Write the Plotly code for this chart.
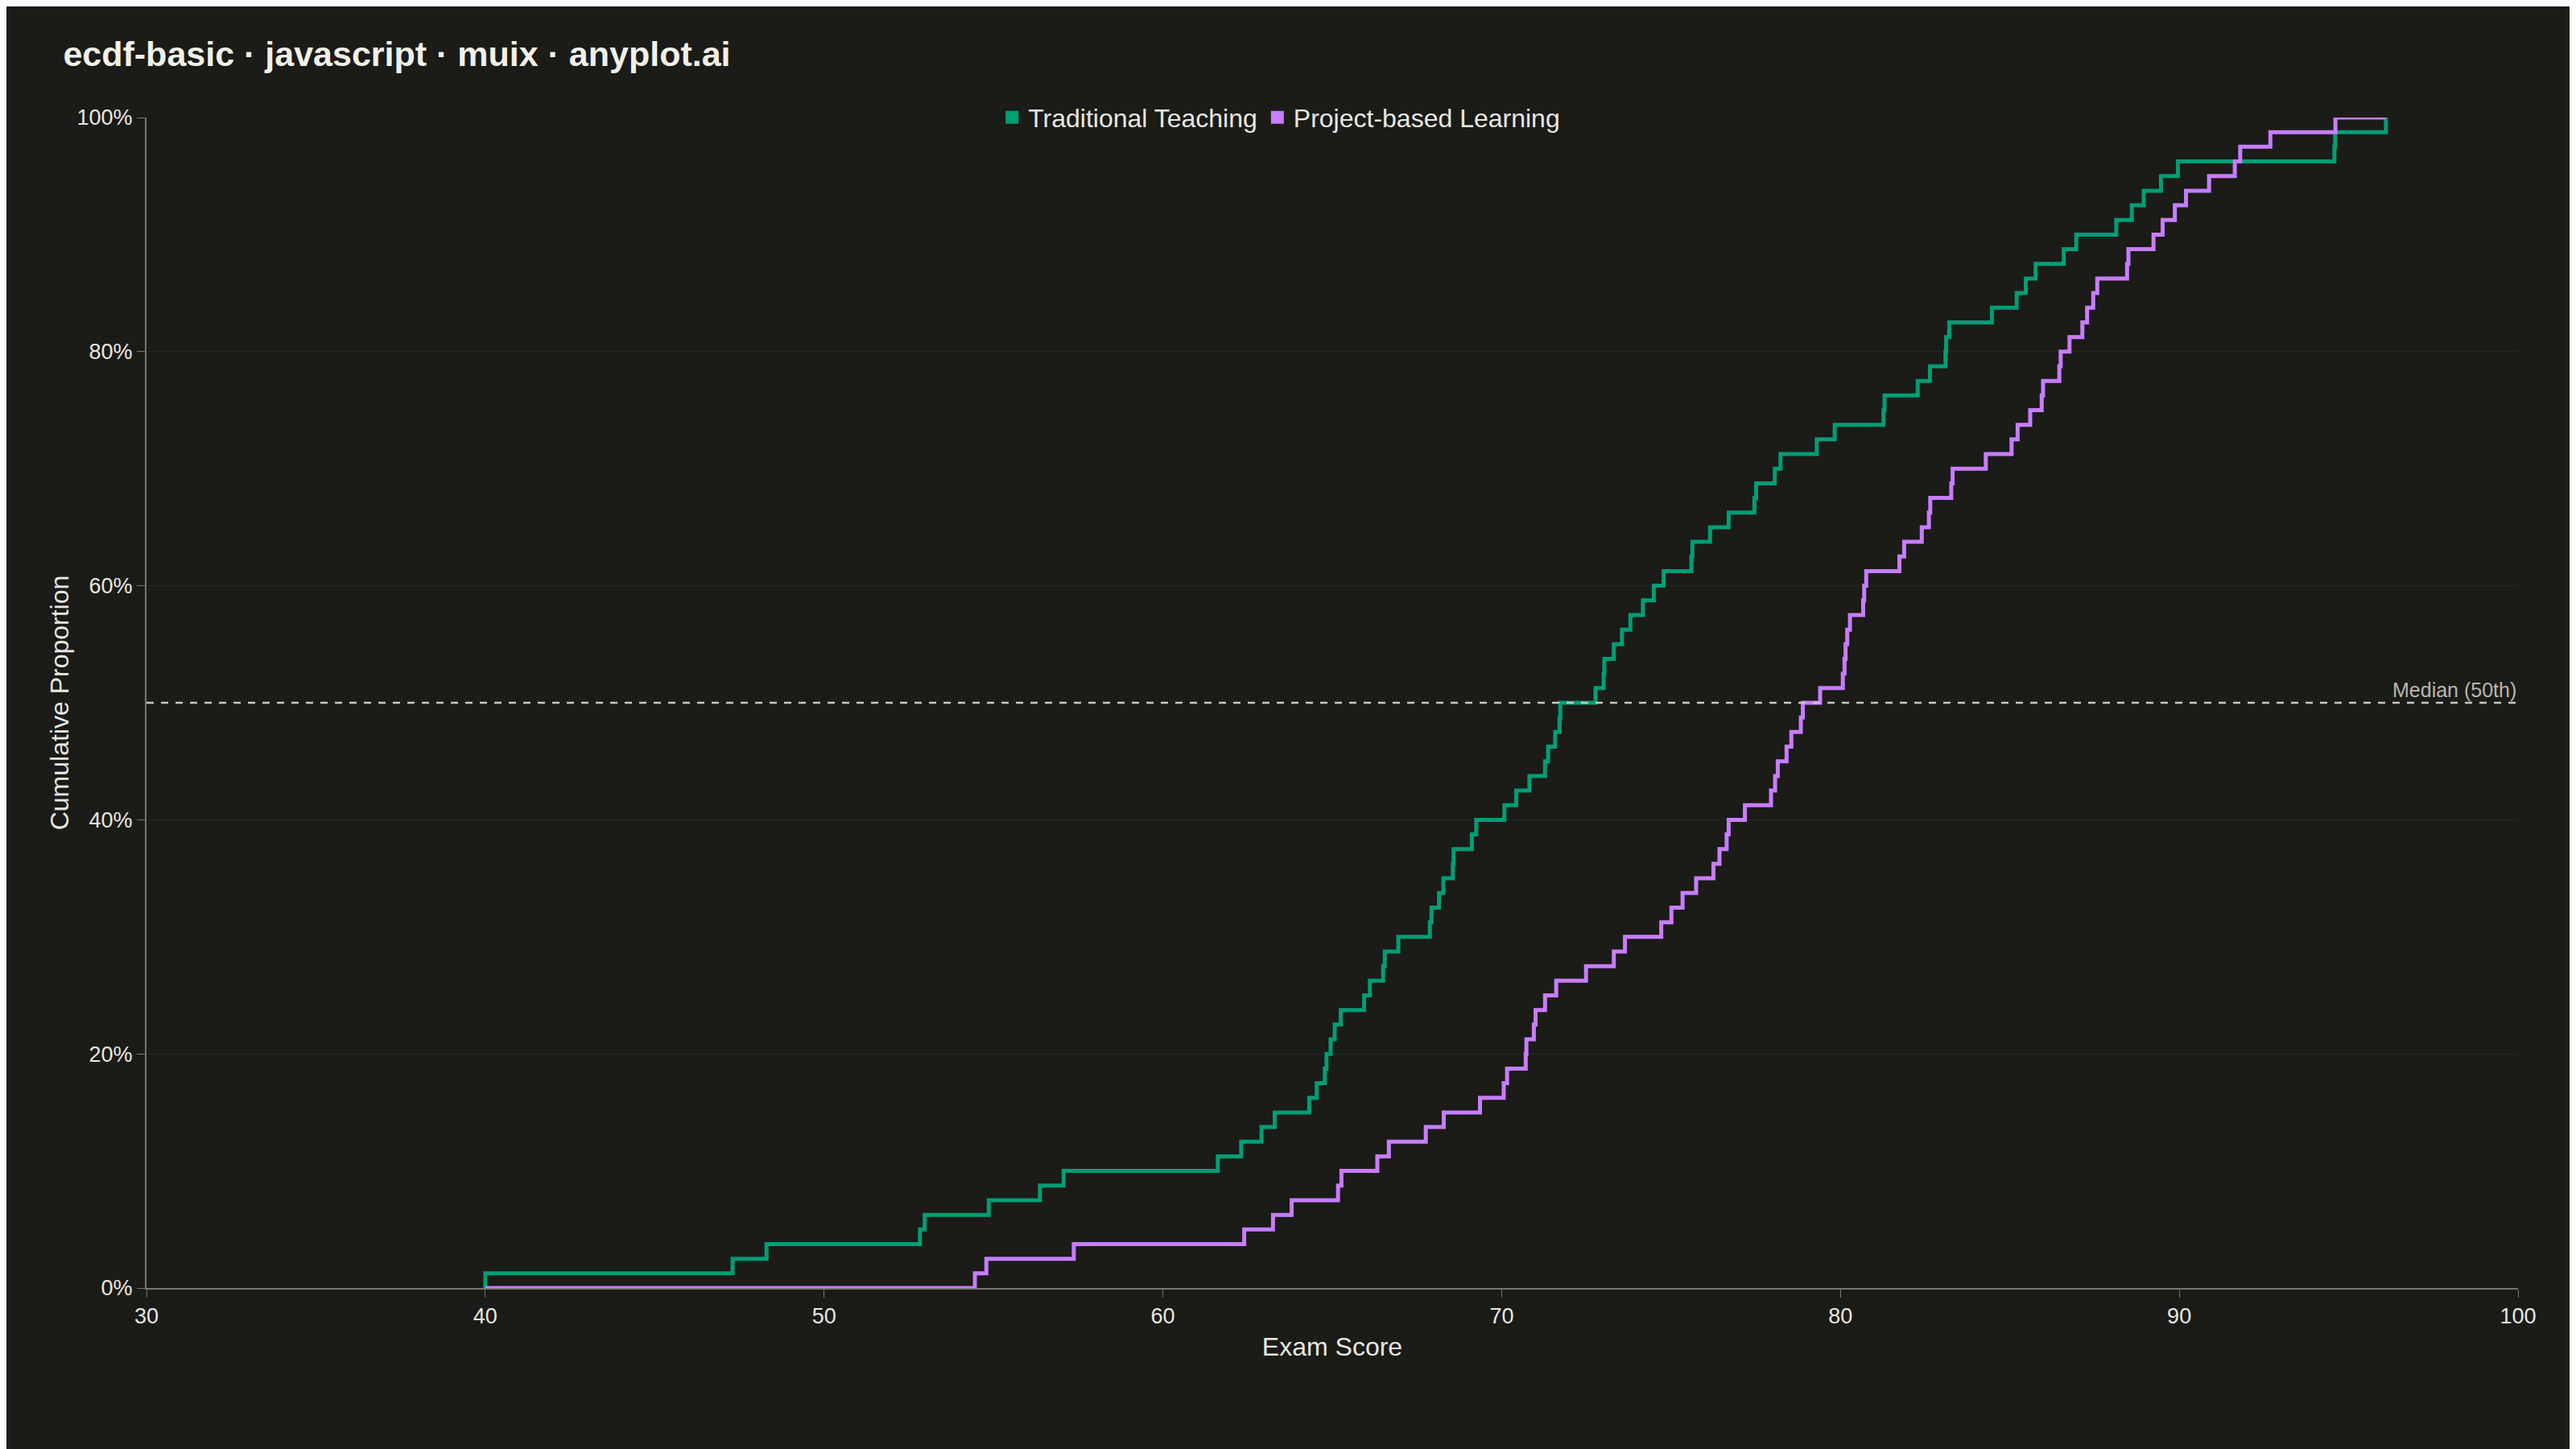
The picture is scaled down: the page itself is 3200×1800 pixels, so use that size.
import plotly.graph_objects as go

traditional = [40.0, 47.3, 48.3, 52.83, 52.97, 54.86, 56.37, 57.07, 61.62, 62.31,
               62.91, 63.30, 64.32, 64.54, 64.78, 64.83, 64.95, 65.07, 65.25, 65.94,
               66.11, 66.5, 66.55, 66.95, 67.88, 67.93, 68.15, 68.28, 68.56, 68.58,
               69.12, 69.25, 70.08, 70.43, 70.82, 71.28, 71.37, 71.58, 71.71, 71.73,
               72.77, 73.01, 73.03, 73.31, 73.55, 73.8, 74.17, 74.49, 74.78, 75.6,
               75.63, 76.15, 76.7, 77.46, 77.51, 78.06, 78.23, 79.3, 79.83, 81.27,
               81.3, 82.28, 82.64, 83.1, 83.12, 83.21, 84.47, 85.2, 85.47, 85.76,
               86.59, 86.96, 88.14, 88.6, 88.95, 89.46, 89.96, 94.58, 94.6, 96.1]
project = [54.45, 54.79, 57.37, 62.4, 63.25, 63.8, 65.17, 65.27, 66.33, 66.67,
           67.76, 68.29, 69.36, 70.06, 70.16, 70.71, 70.73, 70.95, 71.0, 71.28,
           71.61, 72.49, 73.31, 73.64, 74.71, 75.01, 75.34, 75.74, 76.25, 76.43,
           76.64, 76.7, 77.18, 77.95, 78.07, 78.15, 78.41, 78.55, 78.83, 78.89,
           79.4, 80.07, 80.12, 80.15, 80.2, 80.28, 80.67, 80.7, 80.76, 81.74,
           81.88, 82.4, 82.61, 82.65, 83.27, 83.31, 84.29, 85.05, 85.23, 85.6,
           85.94, 85.98, 86.46, 86.5, 86.76, 87.14, 87.28, 87.46, 87.58, 88.46,
           88.5, 89.24, 89.51, 89.87, 90.2, 90.88, 91.64, 91.8, 92.69, 94.61]

names = ["Traditional Teaching", "Project-based Learning"]
colors = ["#009E73", "#C77DFF"]

lo = min(traditional + project)
hi = max(traditional + project)

fig = go.Figure()
for data, name, col in zip([traditional, project], names, colors):
    s = sorted(data)
    n = len(s)
    xs = [lo] + s + [hi]
    ys = [0] + [(i + 1) / n for i in range(n)] + [1]
    fig.add_trace(go.Scatter(x=xs, y=ys, mode="lines", name=name, line_shape="hv",
                             line=dict(color=col, width=5), showlegend=False))
    # square swatch for the legend
    fig.add_trace(go.Scatter(x=[None], y=[None], mode="markers", name=name,
                             marker=dict(symbol="square", size=38, color=col)))

fig.add_hline(y=0.5, line=dict(color="#c8c8c0", width=2.5, dash="dash"),
              annotation_text="Median (50th)", annotation_position="top right",
              annotation_font=dict(size=25, color="#b8b8b0"))

fig.update_layout(
    width=3200, height=1800,
    paper_bgcolor="#1b1b18", plot_bgcolor="#1b1b18",
    font=dict(family="Liberation Sans, Arial", color="#e8e8e0", size=27),
    title=dict(text="<b>ecdf-basic · javascript · muix · anyplot.ai</b>", x=0.022, y=0.967,
               xanchor="left", yanchor="middle", font=dict(size=43, color="#f0f0e8")),
    margin=dict(l=174, r=80, t=138, b=208),
    legend=dict(orientation="h", x=0.478, xanchor="center", y=1.0, yanchor="middle",
                font=dict(size=32), bgcolor="rgba(0,0,0,0)", itemwidth=30),
    xaxis=dict(range=[30, 100], dtick=10, showgrid=False, zeroline=False,
               showline=True, linecolor="#777770", linewidth=2, ticks="outside",
               ticklen=10, tickcolor="#777770",
               title=dict(text="Exam Score", font=dict(size=32), standoff=12)),
    yaxis=dict(range=[0, 1], dtick=0.2, tickformat=".0%", gridcolor="#262622",
               zeroline=False, showline=True, linecolor="#777770", linewidth=2,
               ticks="outside", ticklen=10, tickcolor="#777770",
               title=dict(text="Cumulative Proportion", font=dict(size=32), standoff=0)),
)

fig.write_html("out.html")
